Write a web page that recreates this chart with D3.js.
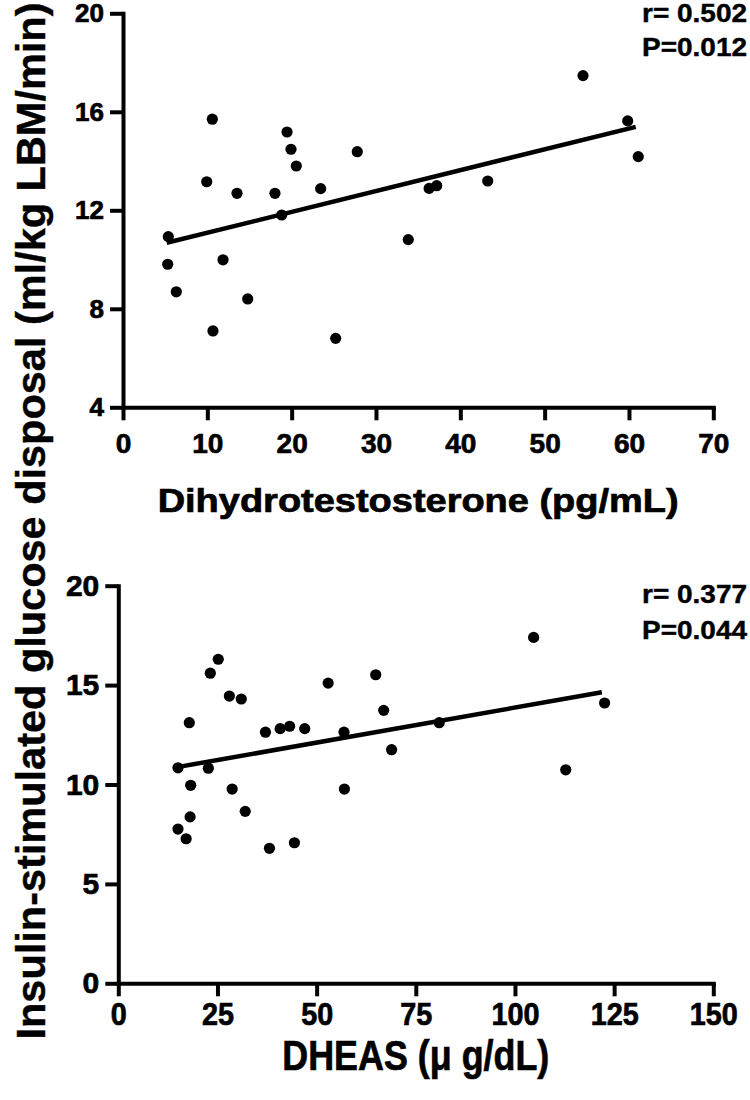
<!DOCTYPE html>
<html>
<head>
<meta charset="utf-8">
<script src="https://cdn.jsdelivr.net/npm/d3@7"></script>
<style>
  html, body { margin: 0; padding: 0; background: #fff; }
  svg { display: block; }
  text { font-family: "Liberation Sans", Arial, sans-serif; font-weight: bold; fill: #000; }
</style>
</head>
<body>
<svg id="chart" width="750" height="1100"></svg>
<script>
// ---- Data ----
const dhtX = [5.37, 5.3, 6.32, 10.59, 9.93, 11.86, 10.67, 13.52, 14.79, 18.02, 18.82, 19.45, 19.92, 20.55, 23.44, 25.22, 27.78, 33.83, 36.3, 37.2, 43.25, 54.55, 59.85, 61.1];
const dhtY = [10.93, 9.81, 8.69, 15.7, 13.16, 9.99, 7.1, 12.69, 8.4, 12.69, 11.81, 15.18, 14.48, 13.8, 12.88, 6.8, 14.38, 10.81, 12.89, 13.0, 13.19, 17.47, 15.63, 14.18];
const dhtFitX = [5.18, 60.8];
const dhtFitY = [10.68, 15.39];
const dhtXTicks = [0, 10, 20, 30, 40, 50, 60, 70];
const dhtYTicks = [4, 8, 12, 16, 20];
const dhtStats = ["r= 0.502", "P=0.012"];

const dheasX = [15.05, 17.9, 18.25, 18.1, 15.05, 17.1, 23.2, 25.2, 22.7, 28.0, 31.0, 28.7, 32.0, 38.1, 37.1, 40.8, 43.2, 47.0, 44.4, 52.9, 56.9, 57.0, 64.9, 66.9, 68.9, 80.9, 104.7, 112.8, 122.6];
const dheasY = [10.84, 13.11, 9.96, 8.37, 7.76, 7.27, 15.6, 16.3, 10.82, 14.45, 14.3, 9.77, 8.65, 6.79, 12.63, 12.81, 12.93, 12.81, 7.07, 15.1, 12.63, 9.77, 15.52, 13.73, 11.75, 13.11, 17.4, 10.74, 14.1];
const dheasFitX = [15.6, 121.9];
const dheasFitY = [10.9, 14.64];
const dheasXTicks = [0, 25, 50, 75, 100, 125, 150];
const dheasYTicks = [0, 5, 10, 15, 20];
const dheasStats = ["r= 0.377", "P=0.044"];

const yTitle = "Insulin-stimulated glucose disposal (ml/kg LBM/min)";
const xTitleTop = "Dihydrotestosterone (pg/mL)";
const xTitleBottom = "DHEAS (\u03BC g/dL)";

// ---- Drawing ----
const svg = d3.select("#chart");
const HEAVY = 0.7; // extra outline to mimic the heavy print weight

function panel(cfg) {
  const x = d3.scaleLinear().domain(cfg.xDomain).range(cfg.xRange);
  const y = d3.scaleLinear().domain(cfg.yDomain).range(cfg.yRange);
  const g = svg.append("g");

  const xAxis = g.append("g")
    .attr("transform", `translate(0,${cfg.yRange[0]})`)
    .call(d3.axisBottom(x).tickValues(cfg.xTicks).tickSize(13).tickSizeOuter(0).tickPadding(cfg.xPad));
  const yAxis = g.append("g")
    .attr("transform", `translate(${cfg.xRange[0]},0)`)
    .call(d3.axisLeft(y).tickValues(cfg.yTicks).tickSize(13).tickSizeOuter(0).tickPadding(6));

  [xAxis, yAxis].forEach(a => {
    a.select(".domain").attr("stroke", "#000").attr("stroke-width", 4).attr("stroke-linecap", "square");
    a.selectAll(".tick line").attr("stroke", "#000").attr("stroke-width", 4);
    a.selectAll("text").style("font-family", "'Liberation Sans', Arial, sans-serif").style("font-weight", "bold")
      .attr("fill", "#000").attr("stroke", "#000").attr("stroke-width", HEAVY);
  });
  xAxis.selectAll("text").style("font-size", cfg.xTickFont + "px");
  if (cfg.xTickCharW) {
    xAxis.selectAll("text").attr("textLength", d => String(d).length * cfg.xTickCharW).attr("lengthAdjust", "spacingAndGlyphs");
  }
  yAxis.selectAll("text").style("font-size", cfg.yTickFont + "px");

  // fit line
  g.append("line")
    .attr("x1", x(cfg.fitX[0])).attr("y1", y(cfg.fitY[0]))
    .attr("x2", x(cfg.fitX[1])).attr("y2", y(cfg.fitY[1]))
    .attr("stroke", "#000").attr("stroke-width", 4.5);

  // points
  g.selectAll("circle.pt").data(cfg.xs.map((v, i) => [v, cfg.ys[i]]))
    .enter().append("circle").attr("class", "pt")
    .attr("cx", d => x(d[0])).attr("cy", d => y(d[1])).attr("r", 5.6).attr("fill", "#000");

  // stats
  cfg.stats.forEach((s, i) => {
    g.append("text").attr("x", 642).attr("y", cfg.statsY[i])
      .attr("textLength", 105).attr("lengthAdjust", "spacingAndGlyphs")
      .attr("stroke", "#000").attr("stroke-width", HEAVY * 0.6)
      .style("font-size", "25px").text(s);
  });

  // x title
  g.append("text").attr("x", (cfg.xRange[0] + cfg.xRange[1]) / 2).attr("y", cfg.titleY)
    .attr("text-anchor", "middle").style("font-size", cfg.titleFont + "px")
    .attr("textLength", cfg.titleLen).attr("lengthAdjust", "spacingAndGlyphs")
    .attr("stroke", "#000").attr("stroke-width", HEAVY)
    .text(cfg.title);
}

panel({
  xDomain: [0, 70], xRange: [123, 713.3], yDomain: [4, 20], yRange: [407.3, 13.3],
  xTicks: dhtXTicks, yTicks: dhtYTicks, xs: dhtX, ys: dhtY, fitX: dhtFitX, fitY: dhtFitY,
  stats: dhtStats, statsY: [22, 56], xPad: 13, xTickFont: 28, yTickFont: 26,
  title: xTitleTop, titleY: 511.5, titleFont: 33, titleLen: 521
});

panel({
  xDomain: [0, 150], xRange: [118.3, 713.3], yDomain: [0, 20], yRange: [983.3, 585.7],
  xTicks: dheasXTicks, yTicks: dheasYTicks, xs: dheasX, ys: dheasY, fitX: dheasFitX, fitY: dheasFitY,
  stats: dheasStats, statsY: [603, 639], xPad: 6, xTickFont: 32, xTickCharW: 16, yTickFont: 30,
  title: xTitleBottom, titleY: 1070, titleFont: 42, titleLen: 267
});

// shared y title
svg.append("text")
  .attr("transform", "translate(45,521) rotate(-90)")
  .attr("text-anchor", "middle")
  .style("font-size", "41px")
  .attr("textLength", 1037).attr("lengthAdjust", "spacingAndGlyphs")
  .attr("stroke", "#000").attr("stroke-width", HEAVY * 0.6)
  .text(yTitle);
</script>
</body>
</html>
